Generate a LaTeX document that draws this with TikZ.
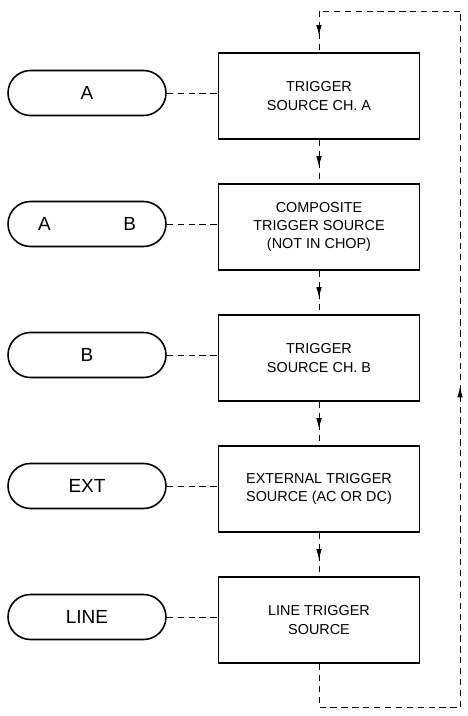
\documentclass[tikz,border=0pt]{standalone}
\usepackage{fontspec}
\setmainfont{Liberation Sans}
\usetikzlibrary{arrows.meta,decorations.markings}
\begin{document}
\begin{tikzpicture}[xscale=1,yscale=1]
		% Styles
		\tikzstyle{boite}=[draw,line width=1.1pt,minimum width=4.02cm,minimum height=1.72cm,align=center,font=\fontsize{8.2}{10.5}\selectfont]
		\tikzstyle{bouton}=[draw,line width=0.9pt,minimum width=3.16cm,minimum height=0.9cm,rounded corners=0.45cm,font=\fontsize{10.8}{12}\selectfont]
		\tikzstyle{liaison}=[line width=0.55pt,dash pattern=on 3.6pt off 2.6pt]
		\tikzstyle{fleche}=[liaison,postaction={decorate,decoration={markings,mark=at position #1 with {\arrow{Latex[length=6pt,width=3.2pt]}}}}]
		% Dimensions
		\def\ColBoutons{1.74}
		\def\ColBoites{6.38}
		\def\ColRetour{9.2}
		\def\Haut{-0.22}
		\def\Bas{-14.14}
		\def\DistanceInterNiveaux{2.62}
		\def\Niveau#1{(-1.92-(#1)*\DistanceInterNiveaux)}
		\useasboundingbox (0,0) rectangle (9.36,-14.32);
		% Boites
		\node[boite] (chA) at ({\ColBoites},{\Niveau{0}}) {TRIGGER\\SOURCE CH. A};
		\node[boite] (comp) at ({\ColBoites},{\Niveau{1}}) {COMPOSITE\\TRIGGER SOURCE\\(NOT IN CHOP)};
		\node[boite] (chB) at ({\ColBoites},{\Niveau{2}}) {TRIGGER\\SOURCE CH. B};
		\node[boite] (ext) at ({\ColBoites},{\Niveau{3}}) {EXTERNAL TRIGGER\\SOURCE (AC OR DC)};
		\node[boite] (line) at ({\ColBoites},{\Niveau{4}}) {LINE TRIGGER\\SOURCE};
		% Boutons
		\node[bouton] (bA) at ({\ColBoutons},{\Niveau{0}+0.06}) {A};
		\node[bouton] (bAB) at ({\ColBoutons},{\Niveau{1}+0.06}) {A\hspace{1.45cm}B};
		\node[bouton] (bB) at ({\ColBoutons},{\Niveau{2}+0.06}) {B};
		\node[bouton] (bExt) at ({\ColBoutons},{\Niveau{3}+0.06}) {EXT};
		\node[bouton] (bLine) at ({\ColBoutons},{\Niveau{4}+0.06}) {LINE};
		% Coins de la boucle
		\coordinate (coinBG) at ({\ColBoites},{\Bas});
		\coordinate (coinBD) at ({\ColRetour},{\Bas});
		\coordinate (coinHD) at ({\ColRetour},{\Haut});
		\coordinate (coinHG) at ({\ColBoites},{\Haut});
		% Liaisons
		\foreach \b/\n in {bA/chA,bAB/comp,bB/chB,bExt/ext,bLine/line}
			\draw[liaison] (\b.east) -- (\b.east -| \n.west);
		\draw[fleche=0.62] (chA.south) -- (comp.north);
		\draw[fleche=0.62] (comp.south) -- (chB.north);
		\draw[fleche=0.62] (chB.south) -- (ext.north);
		\draw[fleche=0.62] (ext.south) -- (line.north);
		\draw[liaison] (line.south) -- (coinBG) -- (coinBD);
		\draw[fleche=0.46] (coinBD) -- (coinHD);
		\draw[liaison] (coinHD) -- (coinHG);
		\draw[fleche=0.6] (coinHG) -- (chA.north);
	\end{tikzpicture}
\end{document}
